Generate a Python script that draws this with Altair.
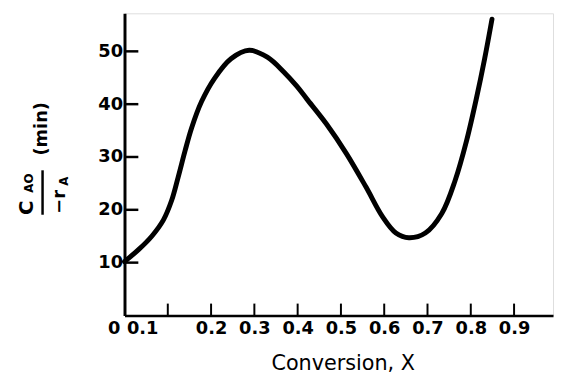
import altair as alt
import pandas as pd

# Curve
conv_x = [0.0, 0.033, 0.063, 0.090, 0.109, 0.124, 0.140, 0.155, 0.178, 0.208, 0.246,
          0.288, 0.330, 0.368, 0.398, 0.421, 0.467, 0.513, 0.558, 0.596, 0.627,
          0.657, 0.695, 0.733, 0.764, 0.790, 0.813, 0.832, 0.849]
ratio_y = [10.2, 12.5, 15.0, 18.1, 21.8, 26.2, 31.2, 35.5, 40.5, 44.9, 48.6,
           50.2, 48.9, 46.1, 43.4, 41.0, 36.2, 30.6, 24.3, 18.7, 15.6,
           14.7, 15.6, 19.3, 25.6, 33.0, 41.1, 48.6, 56.1]

x_ticks = [0.1, 0.2, 0.3, 0.4, 0.5, 0.6, 0.7, 0.8, 0.9]
x_labels = [0, 0.1, 0.2, 0.3, 0.4, 0.5, 0.6, 0.7, 0.8, 0.9]
y_ticks = [10, 20, 30, 40, 50]

W, H = 434, 306
FONT = "DejaVu Sans"

curve = pd.DataFrame({"x": conv_x, "y": ratio_y})

xscale = alt.Scale(domain=[0, 0.99], nice=False, zero=False)
yscale = alt.Scale(domain=[0, 57.2], nice=False)

label_offset = {
    "condition": [
        {"test": "datum.value == 0", "value": -11},
        {"test": "datum.value > 0.05 && datum.value < 0.15", "value": -26},
    ],
    "value": 0,
}

xaxis = alt.Axis(values=x_labels, format=".1~f", labelExpr="datum.value == 0 ? '0' : datum.label",
                 ticks=False, tickSize=0, grid=False, domainColor="black", domainWidth=2.5,
                 labelFont=FONT, labelFontSize=18, labelFontWeight="bold", labelColor="black",
                 labelPadding=4, labelOffset=label_offset, labelFlush=False,
                 title="Conversion, X", titleFont=FONT, titleFontSize=21, titleFontWeight="normal",
                 titleColor="black", titlePadding=16, titleX=W / 2 + 4)
yaxis = alt.Axis(values=y_ticks, ticks=False, tickSize=0, grid=False, domainColor="black",
                 domainWidth=3, labelFont=FONT, labelFontSize=18, labelFontWeight="bold",
                 labelColor="black", labelPadding=2, title=None)

line = alt.Chart(curve).mark_line(color="black", strokeWidth=5, interpolate="catmull-rom",
                                  strokeCap="round").encode(
    x=alt.X("x:Q", scale=xscale, axis=xaxis),
    y=alt.Y("y:Q", scale=yscale, axis=yaxis),
)

xt = alt.Chart(pd.DataFrame({"x": x_ticks})).mark_rule(color="black", strokeWidth=2).encode(
    x=alt.X("x:Q", scale=xscale), y=alt.value(H), y2=alt.value(H - 12))
yt = alt.Chart(pd.DataFrame({"y": y_ticks})).mark_rule(color="black", strokeWidth=2.5).encode(
    y=alt.Y("y:Q", scale=yscale), x=alt.value(0), x2=alt.value(14))

one = pd.DataFrame({"a": [0]})


def txt(s, x, y, size, weight="bold"):
    return alt.Chart(one).mark_text(text=s, angle=270, align="center", baseline="middle",
                                    font=FONT, fontSize=size, fontWeight=weight,
                                    color="black").encode(x=alt.value(x), y=alt.value(y))


ytitle = [
    txt("C", -99, 197, 20),
    txt("AO", -97, 172, 12),
    txt("\u2212r", -65, 191, 18),
    txt("A", -61, 170, 12),
    txt("(min)", -84, 117, 18),
    alt.Chart(one).mark_rule(color="black", strokeWidth=2.5).encode(
        x=alt.value(-83), y=alt.value(159), y2=alt.value(204)),
]

chart = alt.layer(line, xt, yt, *ytitle).properties(
    width=W, height=H,
    padding={"left": 118, "top": 3, "right": 2, "bottom": 64},
    autosize=alt.AutoSizeParams(type="none"),
).configure_view(stroke=None).configure(background="white")

chart.save("out.html", embed_options={"renderer": "svg", "actions": False})
